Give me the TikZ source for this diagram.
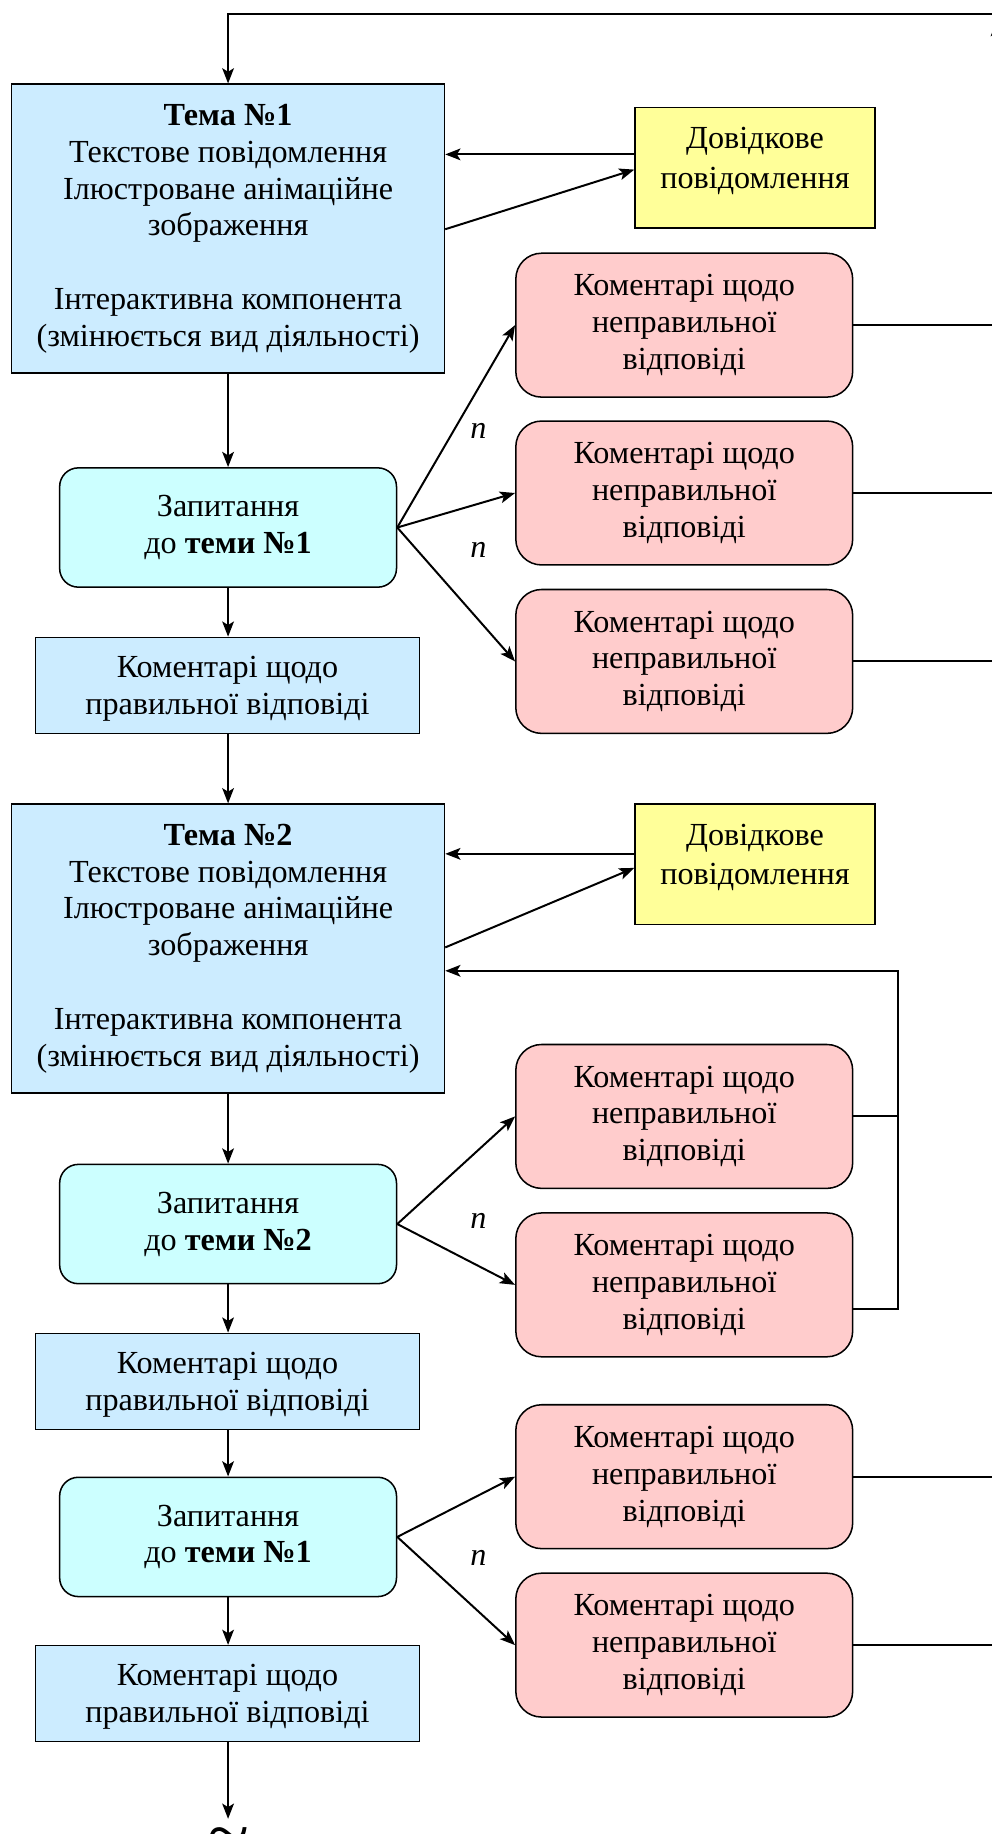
\documentclass[tikz,border=0pt]{standalone}
\usepackage{fontspec}
\setmainfont{Liberation Serif}
\newfontfamily\tnr{Liberation Serif}
\usetikzlibrary{arrows.meta,calc}
\definecolor{topicblue}{HTML}{CCECFF}
\definecolor{qcyan}{HTML}{CCFFFF}
\definecolor{wrongpink}{HTML}{FFCCCC}
\definecolor{refyellow}{HTML}{FFFF99}
\begin{document}
\begin{tikzpicture}[x=1pt,y=-1pt,
  font=\tnr\fontsize{27.5}{31.5}\selectfont,
  boxline/.style={draw, line width=1.3pt},
  topicbox/.style={boxline, fill=topicblue, align=center, inner sep=0pt, minimum width=370pt, minimum height=247pt},
  refbox/.style={boxline, fill=refyellow, inner sep=0pt, minimum width=205pt, minimum height=103pt},
  reftext/.style={align=center, inner sep=0pt},
  question/.style={boxline, fill=qcyan, rounded corners=16pt, align=center, inner sep=0pt, minimum width=288pt, minimum height=102pt},
  wrong/.style={boxline, fill=wrongpink, rounded corners=22pt, align=center, inner sep=0pt, minimum width=288pt, minimum height=123pt},
  okbox/.style={boxline, fill=topicblue, align=center, inner sep=0pt, text depth=0pt, minimum width=328pt, minimum height=82pt},
  nlabel/.style={font=\tnr\fontsize{27.5}{31.5}\selectfont\itshape, inner sep=0pt},
  arr/.style={line width=1.7pt, -{Stealth[length=13pt,width=10pt,inset=3pt]}},
  ln/.style={line width=1.7pt}]
\useasboundingbox (0,0) rectangle (848,1568);

% ---------- topic 1 ----------
\node[topicbox] (t1) at (195,195.5) {\textbf{Тема №1}\\Текстове повідомлення\\Ілюстроване анімаційне\\зображення\\[31.5pt]Інтерактивна компонента\\(змінюється вид діяльності)};
\node[refbox] (d1) at (645.5,143.5) {};
\node[reftext] (d1t) at ([yshift=6pt]d1.center) {Довідкове\\[2.5pt]повідомлення};
\node[question] (q1) at (195,451) {Запитання\\до \textbf{теми №1}};
\node[wrong] (w1) at (585,278) {Коментарі щодо\\неправильної\\відповіді};
\node[wrong] (w2) at (585,421.5) {Коментарі щодо\\неправильної\\відповіді};
\node[wrong] (w3) at (585,565.5) {Коментарі щодо\\неправильної\\відповіді};
\node[okbox] (c1) at (194.5,586) {Коментарі щодо\\правильної відповіді};
\node[nlabel] (n1) at (409,368) {n};
\node[nlabel] (n2) at (409,470) {n};

% ---------- topic 2 ----------
\node[topicbox] (t2) at (195,811) {\textbf{Тема №2}\\Текстове повідомлення\\Ілюстроване анімаційне\\зображення\\[31.5pt]Інтерактивна компонента\\(змінюється вид діяльності)};
\node[refbox] (d2) at (645.5,739) {};
\node[reftext] (d2t) at ([yshift=6pt]d2.center) {Довідкове\\[2.5pt]повідомлення};
\node[question] (q2) at (195,1046.5) {Запитання\\до \textbf{теми №2}};
\node[wrong] (w4) at (585,954.5) {Коментарі щодо\\неправильної\\відповіді};
\node[wrong] (w5) at (585,1098.5) {Коментарі щодо\\неправильної\\відповіді};
\node[okbox] (c2) at (194.5,1181) {Коментарі щодо\\правильної відповіді};
\node[nlabel] (n3) at (409,1044) {n};

% ---------- question 3 ----------
\node[question] (q3) at (195,1314) {Запитання\\до \textbf{теми №1}};
\node[wrong] (w6) at (585,1262.5) {Коментарі щодо\\неправильної\\відповіді};
\node[wrong] (w7) at (585,1406.5) {Коментарі щодо\\неправильної\\відповіді};
\node[okbox] (c3) at (194.5,1448) {Коментарі щодо\\правильної відповіді};
\node[nlabel] (n4) at (409,1332) {n};

% ---------- helper coordinates ----------
\coordinate (topR) at (870,12);
\coordinate (rv) at (852,18);
\coordinate (lp) at (768,830);
\coordinate (endpt) at (195,1555);

% ---------- connectors ----------
\draw[arr] (topR) -- (t1.north |- topR) -- (t1.north);
\draw[arr] (d1.west |- 0,132) -- (t1.east |- 0,132);
\draw[arr] (t1.east |- 0,196) -- (d1.west |- 0,145);
\draw[arr] (t1.south) -- (q1.north);
\draw[arr] (q1.east) -- (w1.west);
\draw[arr] (q1.east) -- (w2.west);
\draw[arr] (q1.east) -- (w3.west);
\draw[arr] (q1.south) -- (q1.south |- c1.north);
\draw[arr] (c1.south -| t2.north) -- (t2.north);
\draw[ln] (w1.east) -- (w1.east -| rv);
\draw[ln] (w2.east) -- (w2.east -| rv);
\draw[ln] (w3.east) -- (w3.east -| rv);

\draw[arr] (d2.west |- 0,730) -- (t2.east |- 0,730);
\draw[arr] (t2.east |- 0,810) -- (d2.west |- 0,742);
\draw[arr] (t2.south) -- (q2.north);
\draw[arr] (q2.east) -- (w4.west);
\draw[arr] (q2.east) -- (w5.west);
\draw[ln] (w4.east) -- (w4.east -| lp);
\draw[arr] (w5.east |- 0,1119) -- (lp |- 0,1119) -- (lp) -- (t2.east |- lp);
\draw[arr] (q2.south) -- (q2.south |- c2.north);

\draw[arr] (c2.south -| q3.north) -- (q3.north);
\draw[arr] (q3.east) -- (w6.west);
\draw[arr] (q3.east) -- (w7.west);
\draw[arr] (q3.south) -- (q3.south |- c3.north);
\draw[ln] (w6.east) -- (w6.east -| rv);
\draw[arr] (w7.east) -- (w7.east -| rv) -- (rv);
\draw[arr] (c3.south -| endpt) -- (endpt);
\node[font=\tnr\fontsize{66}{66}\selectfont, anchor=base, inner sep=0pt] (tl) at (195,1590) {\textasciitilde};
\end{tikzpicture}
\end{document}
